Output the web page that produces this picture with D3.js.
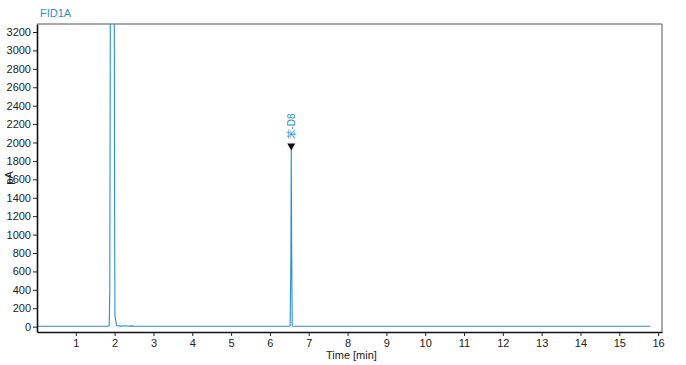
<!DOCTYPE html>
<html>
<head>
<meta charset="utf-8">
<script src="https://cdn.jsdelivr.net/npm/d3@7"></script>
<style>
  body { margin: 0; background: #fff; }
  svg text { font-family: "Liberation Sans", Arial, sans-serif; }
</style>
</head>
<body>
<svg id="chart" width="686" height="365"></svg>
<script>
// chromatogram trace
const times   = [0, 1.82, 1.86, 1.875, 1.89, 1.99, 1.998, 2.008, 2.05, 2.15, 2.3, 2.35, 2.42, 2.5, 3.0, 6.48, 6.52, 6.54, 6.55, 6.56, 6.575, 6.62, 15.8];
const signal  = [4, 4, 10, 400, 3600, 3600, 1400, 120, 12, 6, 10, 5, 9, 4, 4, 4, 6, 700, 1935, 900, 8, 4, 4];
const xTicks  = [1, 2, 3, 4, 5, 6, 7, 8, 9, 10, 11, 12, 13, 14, 15, 16];
const yTicks  = [0, 200, 400, 600, 800, 1000, 1200, 1400, 1600, 1800, 2000, 2200, 2400, 2600, 2800, 3000, 3200];
const peakLabels = [{ t: 6.55, v: 1935, name: "苯-D8" }];

const svg = d3.select("#chart");
const margin = { left: 37, top: 24, right: 24, bottom: 33 };
const W = 686, H = 365;
const blue = "#2c8fcb";

const x = d3.scaleLinear().domain([0, 16.1]).range([margin.left, W - margin.right]);
const y = d3.scaleLinear().domain([-58, 3287]).range([H - margin.bottom, margin.top]);

svg.append("defs").append("clipPath").attr("id", "clip")
  .append("rect")
  .attr("x", margin.left).attr("y", margin.top)
  .attr("width", W - margin.right - margin.left)
  .attr("height", H - margin.bottom - margin.top);

// frame (top + right)
svg.append("path")
  .attr("d", `M${margin.left},${margin.top}H${W - margin.right}V${H - margin.bottom}`)
  .attr("fill", "none").attr("stroke", "#555").attr("stroke-width", 1);

// trace
const pts = times.map((t, i) => [t, signal[i]]);
svg.append("path")
  .datum(pts)
  .attr("clip-path", "url(#clip)")
  .attr("fill", "none")
  .attr("stroke", blue)
  .attr("stroke-width", 1.1)
  .attr("d", d3.line().x(d => x(d[0])).y(d => y(d[1])));

// axes
const xAxis = svg.append("g")
  .attr("transform", `translate(0,${H - margin.bottom})`)
  .call(d3.axisBottom(x).tickValues(xTicks).tickSize(4).tickSizeOuter(0).tickPadding(3));
xAxis.select(".domain").attr("stroke", "#111").attr("stroke-width", 1.6);

const yAxis = svg.append("g")
  .attr("transform", `translate(${margin.left},0)`)
  .call(d3.axisLeft(y).tickValues(yTicks).tickFormat(d3.format("d")).tickSize(4).tickSizeOuter(0).tickPadding(2));
yAxis.select(".domain").attr("stroke", "#111").attr("stroke-width", 1.6);

svg.selectAll(".tick text").attr("font-size", 11).attr("fill", "#222")
  .attr("font-family", "Liberation Sans, Arial, sans-serif");
svg.selectAll(".tick line").attr("stroke", "#222");

// titles
svg.append("text").attr("x", 40).attr("y", 17)
  .attr("font-size", 11).attr("fill", blue).text("FID1A");

svg.append("text")
  .attr("transform", "translate(13,178) rotate(-90)")
  .attr("text-anchor", "middle").attr("font-size", 11).attr("fill", "#222").text("pA");

svg.append("text")
  .attr("x", x(8.1)).attr("y", 359)
  .attr("text-anchor", "middle").attr("font-size", 11).attr("fill", "#222").text("Time [min]");

// peak markers
peakLabels.forEach(p => {
  const px = x(p.t), py = y(p.v);
  svg.append("path")
    .attr("d", `M${px - 4},${py - 5}L${px + 4},${py - 5}L${px},${py + 2}Z`)
    .attr("fill", "#111");
  svg.append("text")
    .attr("transform", `translate(${px + 4},${py - 9}) rotate(-90)`)
    .attr("font-size", 10).attr("fill", blue).text(p.name);
});
</script>
</body>
</html>
